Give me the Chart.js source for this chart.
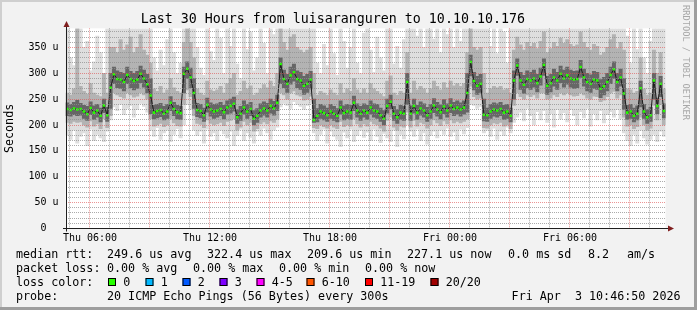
<!DOCTYPE html>
<html><head><meta charset="utf-8">
<script src="https://cdn.jsdelivr.net/npm/chart.js@4.4.1/dist/chart.umd.min.js"></script>
<style>html,body{margin:0;padding:0;background:#f2f2f2;overflow:hidden}canvas{display:block}</style>
</head><body>
<canvas id="c" width="697" height="310"></canvas>
<script>
// 10-minute slots from Thu 04:46:50 to Fri 10:46:50 (hours since Thu 00:00)
const startHour = 4.780556;
const endHour = 34.780556;
const hourTicks = [5,6,7,8,9,10,11,12,13,14,15,16,17,18,19,20,21,22,23,24,25,26,27,28,29,30,31,32,33,34];
const xTickLabels = {6:'Thu 06:00', 12:'Thu 12:00', 18:'Thu 18:00', 24:'Fri 00:00', 30:'Fri 06:00'};
const yTicks = [0,10,20,30,40,50,60,70,80,90,100,110,120,130,140,150,160,170,180,190,200,210,220,230,240,250,260,270,280,290,300,310,320,330,340,350,360,370,380];

// median rtt (microseconds)
const med = [
231,229,232,230,231,226,221,233,224,228,218,238,219,272,298,289,288,283,297,289,285,288,299,290,279,257,224,227,229,222,
226,243,231,225,223,299,309,292,262,229,227,219,239,230,226,228,231,225,234,237,241,215,222,234,226,231,212,218,228,232,
228,237,232,243,318,289,280,296,302,289,286,276,280,288,210,218,226,223,219,226,222,218,234,223,226,224,243,228,222,228,
224,234,228,226,219,212,237,245,222,215,224,222,283,222,237,224,232,228,219,226,238,230,225,236,228,238,231,234,230,234,
262,322,285,276,280,220,219,226,230,228,231,224,226,218,286,315,286,278,289,286,290,281,294,316,276,281,292,286,299,290,
296,290,288,289,312,292,283,280,288,286,270,275,283,297,308,283,292,261,224,226,218,222,271,226,215,219,286,237,280,227];
// smoke: dense core
const coreHi = [
243,240,244,248,242,238,236,245,237,240,233,250,234,300,312,305,302,300,312,304,300,304,314,306,298,290,238,240,242,236,
240,255,244,238,236,312,322,310,290,242,240,233,252,243,240,241,244,238,247,250,254,230,236,247,240,244,228,232,241,245,
242,250,246,258,330,306,298,312,318,305,302,294,298,304,250,232,240,237,233,240,236,232,247,237,240,238,256,241,236,241,
238,247,241,240,233,228,250,258,236,230,238,236,300,237,250,238,245,241,234,240,251,244,239,249,241,251,244,247,243,247,
300,335,302,294,298,250,233,240,243,241,244,238,240,233,305,328,302,296,305,302,306,298,310,328,294,298,308,302,314,306,
312,306,304,305,325,308,300,297,304,302,288,292,300,312,322,300,308,290,238,240,233,237,285,240,230,234,300,252,294,241];
const coreLo = [
218,217,220,218,219,213,209,220,211,215,206,224,207,232,280,272,271,266,280,272,268,271,282,273,262,222,212,214,216,210,
213,228,218,212,211,262,290,272,232,216,214,207,225,217,213,215,218,212,221,223,227,203,209,221,213,218,200,205,215,219,
215,223,219,228,280,272,263,279,285,272,269,259,263,270,205,206,213,210,207,213,209,206,221,210,213,211,228,215,209,215,
211,221,215,213,207,200,223,231,209,203,211,209,240,209,223,211,219,215,207,213,224,217,212,222,215,224,218,221,217,221,
225,295,268,259,263,208,207,213,217,215,218,211,213,206,250,296,269,261,272,269,273,264,277,296,259,264,275,269,282,273,
279,273,271,272,292,275,266,263,271,269,253,258,266,280,290,266,275,230,211,213,206,210,235,213,203,207,250,222,255,214];
// smoke: middle band
const midHi = [
262,258,270,386,275,265,260,280,262,258,255,300,262,350,350,340,365,345,355,370,340,350,375,345,335,320,270,265,275,262,
268,290,272,265,262,360,386,360,330,270,262,258,285,268,265,268,275,262,280,290,300,258,265,285,270,276,258,262,270,278,
272,285,275,300,386,360,345,370,375,350,345,340,345,350,300,258,265,262,258,268,262,258,280,262,270,265,290,268,262,270,
262,280,270,265,260,255,285,295,262,258,265,262,340,262,285,268,275,270,262,270,285,275,268,282,272,285,276,280,275,280,
340,386,350,345,350,300,262,270,275,272,275,268,270,262,345,370,355,345,360,352,358,348,362,380,340,348,360,352,368,358,
365,356,352,355,380,360,350,345,356,352,335,340,350,365,375,348,360,345,270,268,262,265,330,270,258,262,345,300,340,270];
const midLo = [
205,203,207,205,206,200,196,208,198,202,193,212,195,218,262,258,255,252,262,258,254,256,262,258,250,212,198,200,203,197,
200,212,204,199,198,240,268,255,218,203,201,195,210,203,200,202,205,199,207,209,212,190,196,207,200,205,188,193,202,206,
202,208,205,212,262,258,250,262,266,258,256,248,250,256,195,193,200,197,194,200,196,193,207,197,200,198,212,202,196,202,
198,207,202,200,194,188,209,215,196,190,198,196,225,196,209,198,205,202,194,200,210,204,199,208,202,210,204,207,204,207,
212,275,255,250,252,195,194,200,204,202,205,198,200,193,238,262,255,250,258,255,258,252,262,262,250,252,258,255,262,258,
262,258,256,257,262,258,252,250,256,255,245,248,255,262,265,252,258,215,198,200,193,197,215,200,190,194,238,210,240,200];
// smoke: outer light band
const outHi = [
386,330,315,386,386,350,362,305,322,372,340,300,386,386,386,386,386,386,386,386,386,386,386,386,386,386,330,305,345,315,
365,386,340,300,320,386,386,386,386,350,310,296,386,342,325,386,368,300,386,352,386,318,290,386,346,380,305,330,386,358,
300,386,375,386,386,386,386,386,386,386,386,386,386,386,386,320,300,356,315,386,338,296,386,362,310,350,386,320,300,378,
386,345,302,370,330,305,386,386,318,352,310,365,386,386,386,372,386,350,386,386,366,386,340,386,375,386,350,386,362,386,
386,386,386,386,386,386,386,352,386,338,386,380,320,386,386,386,386,386,386,386,386,386,386,386,386,386,386,386,386,386,
386,386,386,386,386,386,386,386,386,386,386,386,386,386,386,386,386,386,372,320,386,346,386,330,300,362,386,386,386,386];
const outLo = [
180,172,190,165,178,185,160,192,170,182,175,168,188,210,235,228,240,220,232,238,215,230,242,236,225,190,178,195,172,185,
190,168,182,193,175,200,240,230,190,180,188,165,192,178,185,170,190,183,175,188,160,180,192,170,185,176,165,188,180,194,
185,172,190,196,235,242,238,232,245,240,236,230,238,242,185,170,182,192,165,188,178,172,158,186,175,192,168,180,190,176,
186,170,192,178,166,184,175,168,190,158,182,173,200,188,178,192,170,185,163,180,188,175,190,182,194,178,186,171,192,183,
195,240,238,232,236,185,190,178,194,172,188,180,196,185,205,215,225,208,232,218,200,226,210,228,205,222,196,230,212,224,
206,230,218,200,226,214,232,198,222,210,228,204,220,226,215,230,212,185,170,160,182,165,190,175,163,172,182,168,188,178];

const slots = med.map((_, i) => i);
const lossColors = ['#26ff00','#00b8ff','#0059ff','#7e00ff','#ff00ff','#ff5500','#ff0000','#a10000'];
const lossLabels = ['0','1','2','3','4-5','6-10','11-19','20/20'];

const MONO = "'DejaVu Sans Mono', monospace";
Chart.defaults.font.family = MONO;
Chart.defaults.color = '#000';
const minorGrid = 'rgba(143,143,143,0.75)';
const majorGrid = 'rgba(222,79,79,0.6)';

const pair = (lo, hi) => lo.map((v, i) => [v, hi[i]]);
const barBase = {type:'bar', xAxisID:'x', yAxisID:'y', barPercentage:1, categoryPercentage:1, borderWidth:0, grouped:false};

const decor = {
  id: 'decor',
  beforeDraw(chart) {
    const {ctx, chartArea: a} = chart;
    ctx.save();
    ctx.fillStyle = '#f2f2f2'; ctx.fillRect(0, 0, 697, 310);
    ctx.fillStyle = '#cfcfcf'; ctx.fillRect(0, 0, 697, 2); ctx.fillRect(0, 0, 2, 310);
    ctx.fillStyle = '#9e9e9e'; ctx.fillRect(0, 307, 697, 3); ctx.fillRect(694, 0, 3, 310);
    ctx.fillStyle = '#ffffff'; ctx.fillRect(a.left, a.top, a.right - a.left, a.bottom - a.top);
    ctx.restore();
  },
  afterDraw(chart) {
    const {ctx, chartArea: a} = chart;
    ctx.save();
    // axes
    ctx.strokeStyle = '#1f1f1f'; ctx.lineWidth = 1;
    ctx.beginPath();
    ctx.moveTo(63, a.bottom); ctx.lineTo(668, a.bottom);
    ctx.moveTo(66.5, a.bottom + 3); ctx.lineTo(66.5, 26);
    ctx.stroke();
    ctx.fillStyle = '#801f1f';
    ctx.beginPath(); ctx.moveTo(668, a.bottom - 3); ctx.lineTo(674, a.bottom); ctx.lineTo(668, a.bottom + 3); ctx.closePath(); ctx.fill();
    ctx.beginPath(); ctx.moveTo(63.5, 27); ctx.lineTo(66.5, 21); ctx.lineTo(69.5, 27); ctx.closePath(); ctx.fill();
    // watermark
    ctx.save();
    ctx.translate(685, 5); ctx.rotate(Math.PI / 2);
    ctx.font = '8.7px ' + MONO; ctx.fillStyle = '#a8a8a8'; ctx.textBaseline = 'middle'; ctx.textAlign = 'left';
    ctx.fillText('RRDTOOL / TOBI OETIKER', 0, 0);
    ctx.restore();
    // legend
    ctx.font = '11.7px ' + MONO; ctx.fillStyle = '#000'; ctx.textBaseline = 'alphabetic'; ctx.textAlign = 'left';
    const t = (s, x, y) => ctx.fillText(s, x, y);
    const y1 = 258.3, y2 = 272, y3 = 285.8, y4 = 299.5;
    t('median rtt:', 16, y1); t('249.6 us avg', 107, y1); t('322.4 us max', 207, y1); t('209.6 us min', 307, y1);
    t('227.1 us now', 407, y1); t('0.0 ms sd', 508, y1); t('8.2', 588, y1); t('am/s', 627, y1);
    t('packet loss:', 16, y2); t('0.00 % avg', 107, y2); t('0.00 % max', 193, y2); t('0.00 % min', 279, y2); t('0.00 % now', 365, y2);
    t('loss color:', 16, y3);
    const bx = [108, 145.5, 182.5, 219.5, 256.5, 306.5, 365, 430.5];
    bx.forEach((x, i) => {
      ctx.fillStyle = lossColors[i]; ctx.fillRect(x, 278, 8, 8);
      ctx.strokeStyle = '#000'; ctx.lineWidth = 1; ctx.strokeRect(x + 0.5, 278.5, 7, 7);
      ctx.fillStyle = '#000'; t(lossLabels[i], x + 15.2, y3);
    });
    t('probe:', 16, y4); t('20 ICMP Echo Pings (56 Bytes) every 300s', 107, y4);
    ctx.textAlign = 'right'; t('Fri Apr  3 10:46:50 2026', 680.5, y4);
    ctx.restore();
  }
};

new Chart(document.getElementById('c'), {
  type: 'bar',
  data: {
    labels: slots,
    datasets: [
      {type:'line', label:'median', data: med, xAxisID:'x', yAxisID:'y', order:0,
       borderColor:'#1c1c1c', borderWidth:1, tension:0, fill:false,
       pointStyle:'rect', pointRadius:1.8, pointBorderWidth:0, pointBackgroundColor:'#26ff00'},
      Object.assign({label:'core', data: pair(coreLo, coreHi), backgroundColor:'#666666', order:1}, barBase),
      Object.assign({label:'mid', data: pair(midLo, midHi), backgroundColor:'#b3b3b3', order:2}, barBase),
      Object.assign({label:'outer', data: pair(outLo, outHi), backgroundColor:'#dedede', order:3}, barBase)
    ]
  },
  options: {
    responsive: false, animation: false, devicePixelRatio: 1, events: [],
    layout: {padding: {left: 0, right: 31.4, top: 0, bottom: 0}},
    plugins: {
      legend: {display: false}, tooltip: {enabled: false},
      title: {display: true, text: 'Last 30 Hours from luisaranguren to 10.10.10.176',
        font: {family: MONO, size: 13.3, weight: 'normal', lineHeight: 1}, color: '#000',
        padding: {top: 13, bottom: 2}}
    },
    scales: {
      x: {type: 'category', display: false, offset: true},
      xt: {type: 'linear', position: 'bottom', min: startHour, max: endHour, offset: false,
        afterBuildTicks: s => { s.ticks = hourTicks.map(v => ({value: v})); },
        afterFit: s => { s.height = 310 - 228.5; },
        grid: {offset: false, color: c => (c.tick && c.tick.value % 3 === 0) ? majorGrid : minorGrid, lineWidth: 1, drawTicks: false, z: 1},
        border: {display: false, dash: [1, 1]},
        ticks: {autoSkip: false, maxRotation: 0, minRotation: 0, padding: 4, font: {family: MONO, size: 10}, color: '#000',
          callback: v => xTickLabels[v] || ''}},
      y: {type: 'linear', position: 'left', min: 0, max: 387,
        afterBuildTicks: s => { s.ticks = yTicks.map(v => ({value: v})); },
        afterFit: s => { s.width = 65.6; },
        grid: {color: c => (c.tick && c.tick.value % 50 === 0) ? majorGrid : minorGrid, lineWidth: 1, drawTicks: false, z: 1},
        border: {display: false, dash: [1, 1]},
        ticks: {autoSkip: false, padding: 7, font: {family: MONO, size: 10}, color: '#000',
          callback: v => v % 50 === 0 ? (v === 0 ? '0  ' : v + ' u') : ''},
        title: {display: true, text: 'Seconds', font: {family: MONO, size: 11.7}, color: '#000', padding: {top: 3, bottom: 0}}}
    }
  },
  plugins: [decor]
});
</script>
</body></html>
